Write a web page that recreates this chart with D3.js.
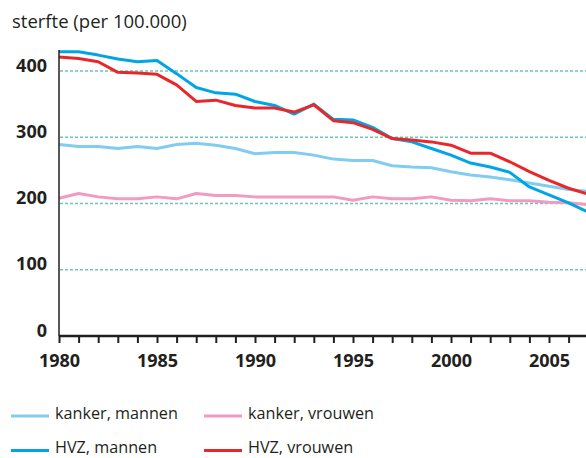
<!DOCTYPE html>
<html lang="nl">
<head>
<meta charset="UTF-8">
<title>Sterfte kanker en HVZ</title>
<script src="https://d3js.org/d3.v7.min.js"></script>
<style>
    body { margin: 0; background: #fff; font-family: "Open Sans", sans-serif; }
    svg { display: block; }
    .title { font-size: 18.5px; fill: #231f20; }
    .ylab, .xaxis text { font-size: 18px; font-weight: bold; fill: #231f20; }
    .legend text { font-size: 16.2px; fill: #231f20; }
</style>
</head>
<body>
<svg width="586" height="458"></svg>
<script>
    // jaren en waarden (per 100.000)
    const years = d3.range(1980, 2008);
    const kankerMannen = [289, 286, 286, 283, 286, 283, 289, 291, 288, 283, 275, 277, 277, 273, 267, 265, 265, 257, 255, 254, 248, 243, 240, 236, 231, 226, 221, 218];
    const kankerVrouwen = [208, 215, 210, 207, 207, 210, 207, 215, 212, 212, 210, 210, 210, 210, 210, 205, 210, 207, 207, 210, 205, 204, 207, 204, 204, 202, 201, 198];
    const hvzMannen = [429, 429, 424, 418, 414, 416, 396, 375, 367, 365, 354, 348, 335, 350, 327, 326, 315, 298, 293, 283, 273, 261, 255, 247, 225, 213, 201, 187];
    const hvzVrouwen = [421, 419, 414, 398, 397, 395, 379, 354, 356, 348, 344, 344, 338, 349, 325, 322, 312, 298, 296, 293, 288, 276, 276, 263, 248, 235, 223, 214];
    const yTicks = [0, 100, 200, 300, 400];
    const xLabels = [1980, 1985, 1990, 1995, 2000, 2005];

    const series = [
        { name: "kanker, vrouwen", values: kankerVrouwen, color: "#f39ac2" },
        { name: "kanker, mannen", values: kankerMannen, color: "#80cdf1" },
        { name: "HVZ, mannen", values: hvzMannen, color: "#00a5e5" },
        { name: "HVZ, vrouwen", values: hvzVrouwen, color: "#e8272b" }
    ];

    const svg = d3.select("svg");
    const W = 586;

    const x = d3.scaleLinear().domain([1980, 2007]).range([59, 588.2]);
    const y = d3.scaleLinear().domain([0, 400]).range([336, 71]);

    svg.append("text").attr("class", "title")
        .attr("x", 12).attr("y", 28)
        .text("sterfte (per 100.000)");

    // rasterlijnen
    svg.append("g").selectAll("line")
        .data(yTicks.filter(d => d > 0))
        .enter().append("line")
        .attr("x1", 60).attr("x2", W)
        .attr("y1", d => y(d)).attr("y2", d => y(d))
        .attr("stroke", "#6cc6b6")
        .attr("stroke-width", 1.5)
        .attr("stroke-dasharray", "3,2");

    // y labels
    svg.append("g").selectAll("text")
        .data(yTicks)
        .enter().append("text")
        .attr("class", "ylab")
        .attr("x", 47).attr("y", d => y(d) + 0.5)
        .attr("text-anchor", "end")
        .text(d => d);

    // lijnen
    const line = d3.line()
        .x((d, i) => x(years[i]))
        .y(d => y(d));

    svg.append("g").selectAll("path")
        .data(series)
        .enter().append("path")
        .attr("d", d => line(d.values))
        .attr("fill", "none")
        .attr("stroke", d => d.color)
        .attr("stroke-width", 3)
        .attr("stroke-linejoin", "round");

    // y as
    svg.append("line")
        .attr("x1", 59).attr("x2", 59)
        .attr("y1", 50).attr("y2", 336)
        .attr("stroke", "#231f20").attr("stroke-width", 1.5);

    // x as
    const xAxis = svg.append("g").attr("class", "xaxis")
        .attr("transform", "translate(0,336)")
        .call(d3.axisBottom(x)
            .tickValues(years)
            .tickSize(7)
            .tickFormat(d => xLabels.includes(d) ? d : ""));
    xAxis.select(".domain").attr("stroke", "#231f20").attr("stroke-width", 2.5)
        .attr("d", `M59,0H${W}`);
    xAxis.selectAll(".tick line").attr("stroke", "#231f20").attr("stroke-width", 2);
    xAxis.selectAll(".tick text").attr("y", 30.5).attr("dy", 0).attr("font-family", "Open Sans");

    // legenda
    const legendOrder = [series[1], series[0], series[2], series[3]];
    const lg = svg.append("g").attr("class", "legend")
        .selectAll("g")
        .data(legendOrder)
        .enter().append("g")
        .attr("transform", (d, i) => `translate(${i % 2 ? 204 : 11},${i < 2 ? 416 : 450.5})`);
    lg.append("line")
        .attr("x1", 0).attr("x2", 38)
        .attr("stroke", d => d.color).attr("stroke-width", 3);
    lg.append("text")
        .attr("x", 44).attr("y", 2.5)
        .text(d => d.name);
</script>
</body>
</html>
